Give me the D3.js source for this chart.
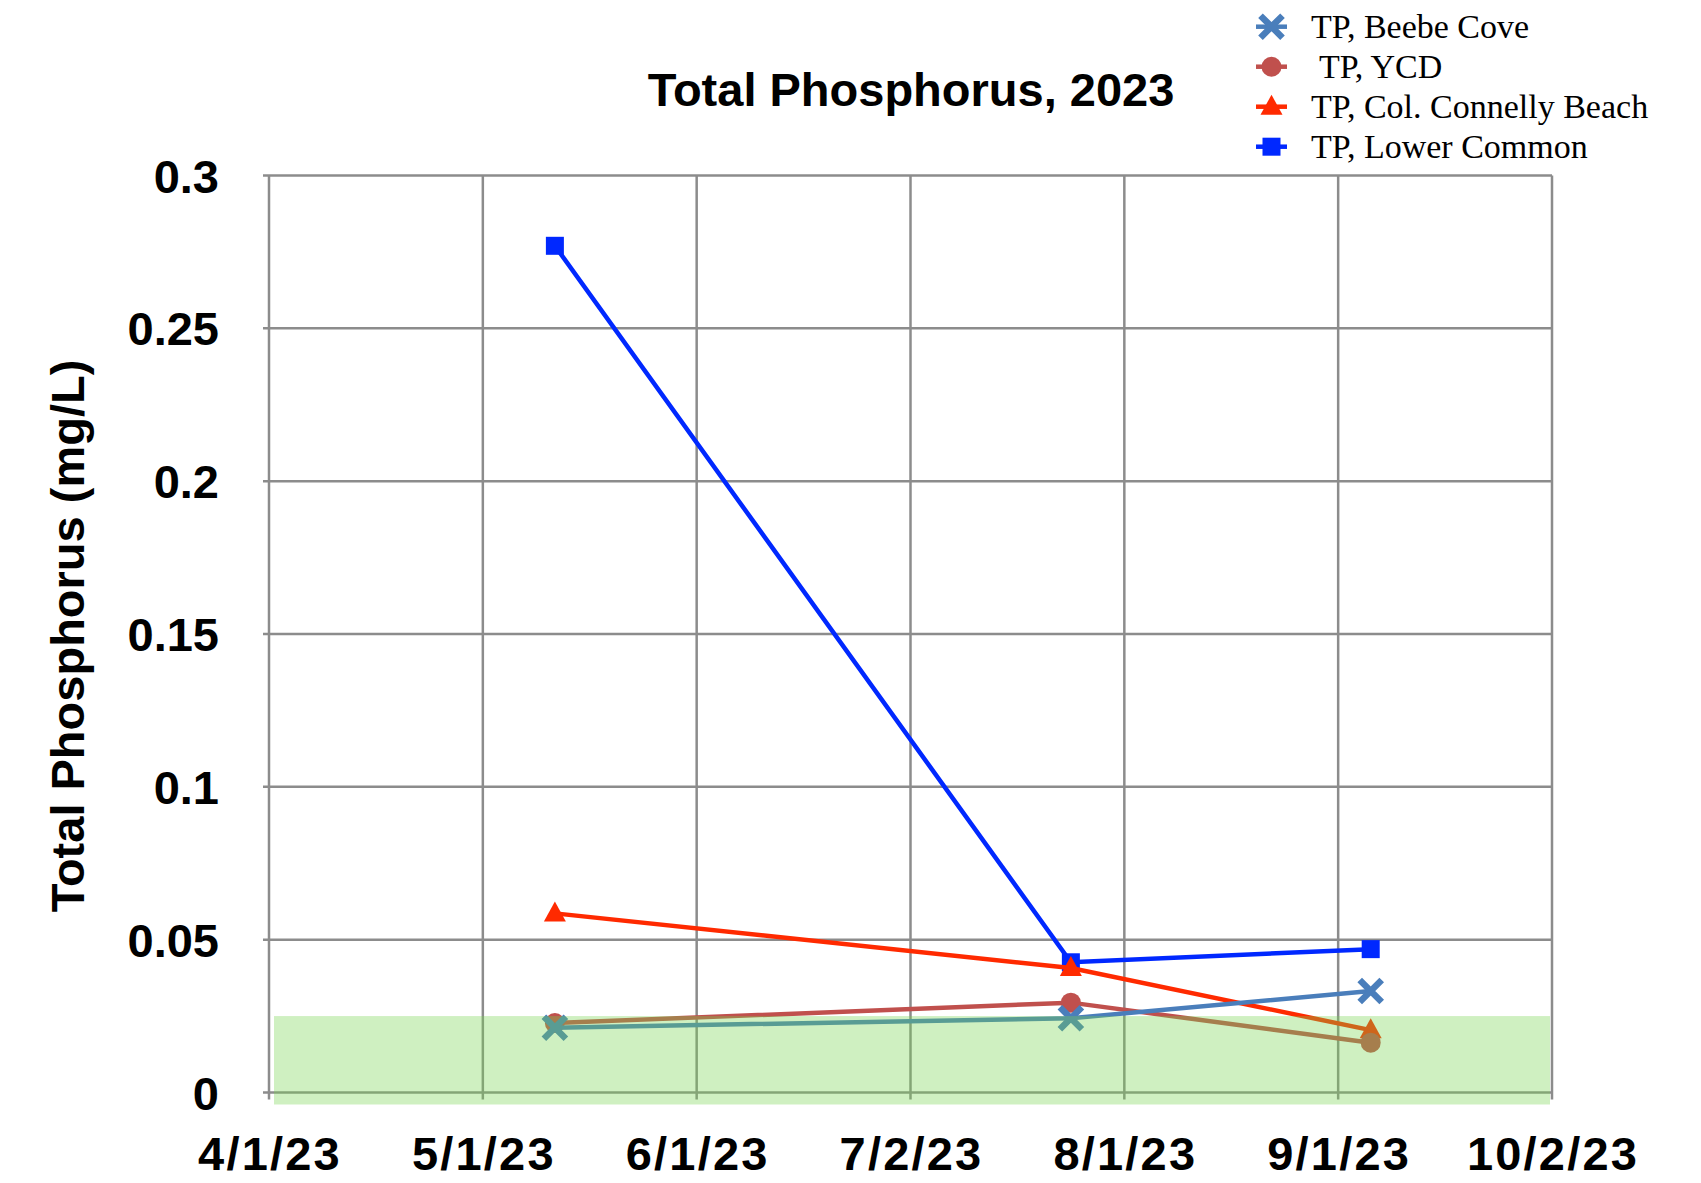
<!DOCTYPE html>
<html>
<head>
<meta charset="utf-8">
<script src="https://cdn.jsdelivr.net/npm/d3@7"></script>
<style>
  body { margin: 0; background: #fff; }
  text { font-family: "Liberation Sans", Arial, sans-serif; }
</style>
</head>
<body>
<svg width="1701" height="1183"></svg>
<script>
// sampling dates and values (mg/L)
const dates = ["2023-05-12", "2023-07-25", "2023-09-06"];
const beebeCove = [0.0212, 0.0243, 0.0332];
const ycd = [0.0227, 0.0294, 0.0163];
const colConnelly = [0.0586, 0.0407, 0.0204];
const lowerCommon = [0.277, 0.0426, 0.0469];

const xTickLabels = ["4/1/23", "5/1/23", "6/1/23", "7/2/23", "8/1/23", "9/1/23", "10/2/23"];
const yTicks = [0, 0.05, 0.1, 0.15, 0.2, 0.25, 0.3];
const targetBand = [0, 0.025];

const series = [
    { name: "TP, Beebe Cove", values: beebeCove, color: "#4a7ebb", shape: "x" },
    { name: " TP, YCD", values: ycd, color: "#c0504d", shape: "circle" },
    { name: "TP, Col. Connelly Beach", values: colConnelly, color: "#ff2a00", shape: "triangle" },
    { name: "TP, Lower Common", values: lowerCommon, color: "#0028ff", shape: "square" }
];

const margin = { top: 175.5, left: 269, right: 1552, bottom: 1092.5 };
const svg = d3.select("svg");

const parse = d3.utcParse("%Y-%m-%d");
const x = d3.scaleUtc()
    .domain([parse("2023-04-01"), parse("2023-10-02")])
    .range([margin.left, margin.right]);
const y = d3.scaleLinear()
    .domain([0, 0.3])
    .range([margin.bottom, margin.top]);

// Excel spaces the date ticks evenly across the axis
const [d0, d1] = x.domain();
const xTicks = xTickLabels.map((_, i) => new Date(+d0 + i * (d1 - d0) / (xTickLabels.length - 1)));

const grid = "#8c8c8c";

// horizontal grid + y labels
svg.append("g")
    .selectAll("line")
    .data(yTicks)
    .join("line")
    .attr("x1", margin.left - 6)
    .attr("x2", margin.right)
    .attr("y1", d => y(d))
    .attr("y2", d => y(d))
    .attr("stroke", grid)
    .attr("stroke-width", 2.5);

svg.append("g")
    .selectAll("text")
    .data(yTicks)
    .join("text")
    .attr("x", 219)
    .attr("y", d => y(d) + 17)
    .attr("text-anchor", "end")
    .attr("font-size", 47)
    .attr("font-weight", "bold")
    .text(d => d);

// vertical grid + x labels
svg.append("g")
    .selectAll("line")
    .data(xTicks)
    .join("line")
    .attr("x1", d => x(d))
    .attr("x2", d => x(d))
    .attr("y1", margin.top)
    .attr("y2", margin.bottom + 7)
    .attr("stroke", grid)
    .attr("stroke-width", 2.5);

svg.append("g")
    .selectAll("text")
    .data(xTicks)
    .join("text")
    .attr("x", d => x(d) + 1)
    .attr("y", 1170)
    .attr("text-anchor", "middle")
    .attr("font-size", 47)
    .attr("font-weight", "bold")
    .attr("letter-spacing", 2.2)
    .text((d, i) => xTickLabels[i]);

// series, drawn back to front
const line = d3.line()
    .x((v, i) => x(parse(dates[i])))
    .y(v => y(v));

function drawMarker(g, shape, color, cx, cy) {
    if (shape === "square") {
        g.append("rect").attr("x", cx - 9).attr("y", cy - 9)
            .attr("width", 18).attr("height", 18).attr("fill", color);
    } else if (shape === "triangle") {
        g.append("path").attr("d", `M${cx},${cy - 12}L${cx + 11},${cy + 8}L${cx - 11},${cy + 8}Z`)
            .attr("fill", color);
    } else if (shape === "circle") {
        g.append("circle").attr("cx", cx).attr("cy", cy).attr("r", 10).attr("fill", color);
    } else {
        g.append("path").attr("d", `M${cx - 11},${cy - 11}L${cx + 11},${cy + 11}M${cx - 11},${cy + 11}L${cx + 11},${cy - 11}`)
            .attr("stroke", color).attr("stroke-width", 6.5).attr("fill", "none");
    }
}

series.slice().reverse().forEach(s => {
    const g = svg.append("g");
    g.append("path")
        .attr("d", line(s.values))
        .attr("fill", "none")
        .attr("stroke", s.color)
        .attr("stroke-width", 4.5);
    s.values.forEach((v, i) => drawMarker(g, s.shape, s.color, x(parse(dates[i])), y(v)));
});

// target band (translucent, on top)
svg.append("rect")
    .attr("x", margin.left + 5)
    .attr("width", margin.right - margin.left - 7)
    .attr("y", y(targetBand[1]))
    .attr("height", y(targetBand[0]) - y(targetBand[1]) + 12)
    .attr("fill", "rgb(118,212,78)")
    .attr("fill-opacity", 0.35);

// title
svg.append("text")
    .attr("x", 911)
    .attr("y", 106)
    .attr("text-anchor", "middle")
    .attr("font-size", 47)
    .attr("font-weight", "bold")
    .text("Total Phosphorus, 2023");

svg.append("text")
    .attr("transform", "translate(84,636) rotate(-90)")
    .attr("text-anchor", "middle")
    .attr("font-size", 47)
    .attr("font-weight", "bold")
    .text("Total Phosphorus (mg/L)");

// legend
const legend = svg.append("g")
    .selectAll("g")
    .data(series)
    .join("g")
    .attr("transform", (d, i) => `translate(1256,${26.7 + i * 40})`);

legend.append("line")
    .attr("x1", 0).attr("x2", 31)
    .attr("stroke", d => d.color)
    .attr("stroke-width", 4.5);

legend.each(function (d) {
    drawMarker(d3.select(this), d.shape, d.color, 15.5, 0);
});

legend.append("text")
    .attr("x", 55)
    .attr("y", 11)
    .style("font-family", "'Liberation Serif', 'DejaVu Serif', serif")
    .style("white-space", "pre")
    .attr("font-size", 34)
    .text(d => d.name);
</script>
</body>
</html>
